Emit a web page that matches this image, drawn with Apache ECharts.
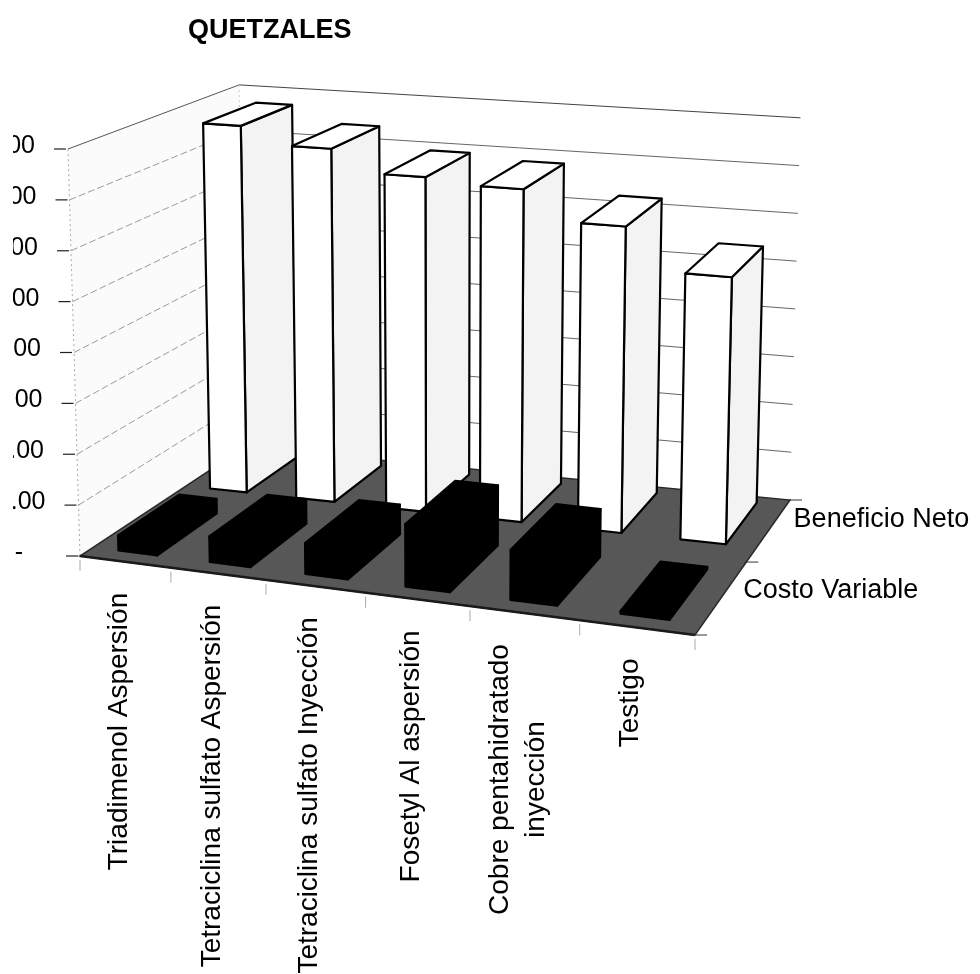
<!DOCTYPE html>
<html>
<head>
<meta charset="utf-8">
<title>Quetzales</title>
<script src="https://cdn.jsdelivr.net/npm/echarts@6/dist/echarts.min.js"></script>
<style>
    html, body { margin: 0; padding: 0; background: #fff; }
    #chart { width: 980px; height: 974px; }
</style>
</head>
<body>
<div id="chart"></div>
<script>
const categories = [
    'Triadimenol Aspersión',
    'Tetraciclina sulfato Aspersión',
    'Tetraciclina sulfato Inyección',
    'Fosetyl Al aspersión',
    'Cobre pentahidratado\ninyección',
    'Testigo'
];
const rowNames = ['Costo Variable', 'Beneficio Neto'];
const costoVariable = [300, 500, 600, 1200, 950, 50];
const beneficioNeto = [7700, 7350, 6900, 6800, 6200, 5350];
const yTicks = [0, 1000, 2000, 3000, 4000, 5000, 6000, 7000, 8000];

// layout of the 3d box (screen px / fractions)
const FLOOR = [[80, 556], [695, 635], [790, 500], [245, 447]]; // front-left, front-right, back-right, back-left
const HEIGHT_PERSP = [-0.059, 0.124];
const VANISH = [447, 13000];
const ROWS = [[0.07, 0.42], [0.61, 0.95]];
const BAR_FRAC = 0.43;
const FONT = 'Liberation Sans, Arial, Helvetica, sans-serif';

function makeFloor(p) {
    const [x0, y0] = p[0], [x1, y1] = p[1], [x2, y2] = p[2], [x3, y3] = p[3];
    const sx = x0 - x1 + x2 - x3, sy = y0 - y1 + y2 - y3;
    const dx1 = x1 - x2, dx2 = x3 - x2, dy1 = y1 - y2, dy2 = y3 - y2;
    const det = dx1 * dy2 - dx2 * dy1;
    const g = (sx * dy2 - dx2 * sy) / det;
    const h = (dx1 * sy - sx * dy1) / det;
    const a = x1 - x0 + g * x1, b = x3 - x0 + h * x3;
    const d = y1 - y0 + g * y1, e = y3 - y0 + h * y3;
    return (u, v) => {
        const w = g * u + h * v + 1;
        return [(a * u + b * v + x0) / w, (d * u + e * v + y0) / w];
    };
}
const floorAt = makeFloor(FLOOR);

// u: along categories, v: depth, hFront: pixel height at the front-left edge
function proj(u, v, hFront) {
    const f = floorAt(u, v);
    const hs = hFront / (1 + HEIGHT_PERSP[0] * u + HEIGHT_PERSP[1] * v);
    const x = f[0] + (f[0] - VANISH[0]) * hs / (VANISH[1] - f[1]);
    return [x, f[1] - hs];
}

function axisHelpers(params, api) {
    const cs = params.coordSys;
    const base = cs.y + cs.height;
    return {
        u: (idx) => (api.coord([idx, 0])[0] - cs.x) / cs.width,
        band: api.size([1, 0])[0] / cs.width,
        h: (val) => base - api.coord([0, val])[1]
    };
}

function poly(points, style) {
    return {type: 'polygon', shape: {points: points}, style: style};
}

function line(p1, p2, style) {
    return {type: 'line', shape: {x1: p1[0], y1: p1[1], x2: p2[0], y2: p2[1]}, style: style};
}

function text(str, x, y, opts) {
    return {
        type: 'text',
        x: x,
        y: y,
        rotation: opts.rotation || 0,
        z2: 50,
        style: {
            text: str,
            fill: '#000',
            fontSize: opts.size,
            fontFamily: FONT,
            fontWeight: opts.weight || 'normal',
            align: opts.align,
            verticalAlign: 'middle',
            textAlign: opts.align,
            textVerticalAlign: 'middle',
            lineHeight: opts.lineHeight || opts.size * 1.15
        }
    };
}

const measureCtx = document.createElement('canvas').getContext('2d');
function textWidth(str, size) {
    measureCtx.font = size + 'px ' + FONT;
    return Math.max(...str.split('\n').map(s => measureCtx.measureText(s).width));
}

function formatTick(v) {
    if (v === 0) {
        return '-';
    }
    return v.toLocaleString('en-US', {minimumFractionDigits: 2, maximumFractionDigits: 2});
}

function renderWalls(params, api) {
    const ax = axisHelpers(params, api);
    const top = ax.h(yTicks[yTicks.length - 1]);
    const children = [];

    // walls
    children.push(poly([proj(0, 0, 0), proj(0, 1, 0), proj(0, 1, top), proj(0, 0, top)], {fill: '#fbfbfb'}));
    children.push(poly([proj(0, 1, 0), proj(1, 1, 0), proj(1, 1, top), proj(0, 1, top)], {fill: '#ffffff'}));

    // gridlines
    for (let i = 1; i < yTicks.length; i++) {
        const h = ax.h(yTicks[i]);
        const last = i === yTicks.length - 1;
        children.push(line(proj(0, 0, h), proj(0, 1, h), {
            stroke: last ? '#555' : '#9a9a9a', lineWidth: 1, lineDash: last ? null : [7, 3]
        }));
        children.push(line(proj(0, 1, h), proj(1, 1, h), {
            stroke: last ? '#444' : '#666', lineWidth: 1
        }));
    }
    children.push(line(proj(0, 0, 0), proj(0, 0, top), {stroke: '#aaa', lineWidth: 1, lineDash: [2, 3]}));
    children.push(line(proj(0, 1, 0), proj(0, 1, top), {stroke: '#ccc', lineWidth: 1, lineDash: [2, 3]}));

    // floor
    children.push(poly([proj(0, 0, 0), proj(1, 0, 0), proj(1, 1, 0), proj(0, 1, 0)], {
        fill: '#575757', stroke: '#2a2a2a', lineWidth: 1.5
    }));
    children.push(line(proj(0, 0, 0), proj(1, 0, 0), {stroke: '#1a1a1a', lineWidth: 2.5}));

    // value axis ticks and labels
    yTicks.forEach(t => {
        const p = proj(0, 0, ax.h(t));
        children.push(line([p[0] - 14, p[1]], [p[0] - 2, p[1]], {stroke: '#222', lineWidth: 1.2}));
        const off = t === 0 ? 57 : 33;
        children.push(text(formatTick(t), p[0] - off, p[1] - 3, {size: 25, align: 'right'}));
    });

    // category ticks and labels
    for (let i = 0; i <= categories.length; i++) {
        const p = floorAt(i * ax.band, 0);
        children.push(line([p[0], p[1] + 4], [p[0], p[1] + 15], {stroke: '#aaa', lineWidth: 1}));
    }
    categories.forEach((name, i) => {
        const p = floorAt(ax.u(i), 0);
        const w = textWidth(name, 28);
        children.push(text(name, p[0] - 6, p[1] + 31 + w / 2, {
            size: 28, align: 'center', rotation: Math.PI / 2, lineHeight: 36
        }));
    });

    // depth ticks and labels
    [0, 0.5, 1].forEach(v => {
        const p = floorAt(1, v);
        children.push(line([p[0] - 2, p[1]], [p[0] + 12, p[1]], {stroke: '#333', lineWidth: 1}));
    });
    rowNames.forEach((name, r) => {
        const p = floorAt(1, (ROWS[r][0] + ROWS[r][1]) / 2);
        children.push(text(name, p[0] + 22, p[1] - 7, {size: 27, align: 'left'}));
    });

    // page edge of the scan
    children.push({type: 'rect', shape: {x: 0, y: 0, width: 13, height: 974}, style: {fill: '#fff'}, z2: 60});

    return {type: 'group', children: children};
}

function barRenderer(row, faces) {
    return function (params, api) {
        const ax = axisHelpers(params, api);
        const idx = api.value(0);
        const h = ax.h(api.value(1));
        const uc = ax.u(idx);
        const half = ax.band * BAR_FRAC / 2;
        const u0 = uc - half, u1 = uc + half;
        const v0 = ROWS[row][0], v1 = ROWS[row][1];
        const fl = proj(u0, v0, 0), fr = proj(u1, v0, 0), br = proj(u1, v1, 0);
        const tfl = proj(u0, v0, h), tfr = proj(u1, v0, h), tbr = proj(u1, v1, h), tbl = proj(u0, v1, h);
        const edge = {stroke: '#000', lineWidth: 2.2, lineJoin: 'round'};
        return {
            type: 'group',
            z2: idx,
            children: [
                poly([fr, br, tbr, tfr], Object.assign({fill: faces.side}, edge)),
                poly([fl, fr, tfr, tfl], Object.assign({fill: faces.front}, edge)),
                poly([tfl, tfr, tbr, tbl], Object.assign({fill: faces.top}, edge))
            ]
        };
    };
}

const myChart = echarts.init(document.getElementById('chart'));

const option = {
    backgroundColor: '#fff',
    animation: false,
    title: {
        text: 'QUETZALES',
        left: 183,
        top: 12,
        textStyle: {fontSize: 27, fontWeight: 'bold', color: '#000', fontFamily: FONT}
    },
    grid: {left: 80, right: 285, top: 149, bottom: 418},
    xAxis: {type: 'category', data: categories, show: false},
    yAxis: {type: 'value', min: 0, max: 8000, interval: 1000, show: false},
    series: [
        {
            type: 'custom',
            name: 'walls',
            z: 1,
            silent: true,
            data: [[0, 0]],
            renderItem: renderWalls
        },
        {
            type: 'custom',
            name: rowNames[1],
            z: 2,
            data: beneficioNeto.map((v, i) => [i, v]),
            encode: {x: 0, y: 1},
            renderItem: barRenderer(1, {front: '#ffffff', side: '#f3f3f3', top: '#ffffff'})
        },
        {
            type: 'custom',
            name: rowNames[0],
            z: 3,
            data: costoVariable.map((v, i) => [i, v]),
            encode: {x: 0, y: 1},
            renderItem: barRenderer(0, {front: '#000', side: '#000', top: '#000'})
        }
    ]
};

myChart.setOption(option);

window.addEventListener('resize', function () {
    myChart.resize();
});
</script>
</body>
</html>
